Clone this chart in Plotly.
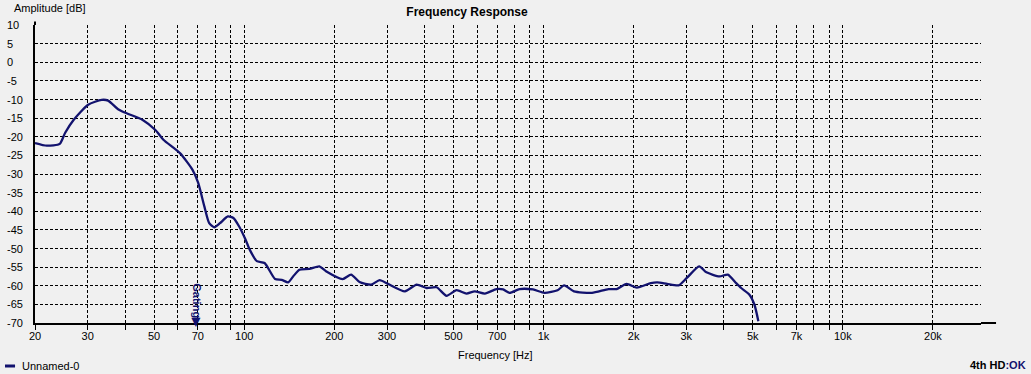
import math
import plotly.graph_objects as go

# ---- data ----
freq_hz = [20, 21.9, 24.2, 25.2, 26.9, 30.1, 33.4, 35.1, 37.9, 39.9, 45.8, 50.5, 53.7,
           61.0, 67.2, 70.2, 73.6, 76.4, 79.4, 83.0, 88.2, 92.0, 96.2, 101, 104.3, 110.2,
           117, 126.8, 133.4, 140.2, 145.7, 153, 165.1, 178.3, 187.6, 213.2, 227.6, 242.8,
           265.6, 283.4, 302.4, 344.3, 376.7, 406.9, 439.4, 474.3, 512, 553, 589, 637,
           696, 733, 771, 832, 922, 1008, 1114, 1172, 1264, 1452, 1649, 1756, 1894, 2050,
           2283, 2400, 2588, 2827, 3011, 3312, 3502, 3874, 4129, 4403, 4575, 4876, 5068, 5222]
amplitude_db = [-21.7, -22.4, -21.9, -19.0, -15.5, -11.4, -10.1, -10.3, -12.6, -13.5, -15.5,
                -18.2, -20.8, -24.4, -28.9, -32.4, -38.7, -43.2, -44.3, -43.2, -41.4, -41.8,
                -44.1, -47.6, -50.3, -53.4, -53.9, -58.2, -58.4, -59.1, -57.5, -55.7, -55.5,
                -54.8, -56.1, -58.2, -57.0, -59.0, -59.7, -58.5, -59.5, -61.5, -59.7, -60.6,
                -60.4, -62.7, -61.2, -62.1, -61.5, -62.1, -60.9, -61.0, -61.9, -60.9, -61.0,
                -61.9, -61.2, -59.9, -61.5, -61.9, -60.9, -60.9, -59.5, -60.5, -59.3, -59.1,
                -59.5, -59.9, -57.9, -54.8, -56.4, -57.5, -57.0, -59.3, -60.6, -62.4, -65.1,
                -69.5]
series_name = "Unnamed-0"

x_tick_vals = [20, 30, 40, 50, 60, 70, 80, 90, 100, 200, 300, 400, 500, 600, 700, 800, 900,
               1000, 2000, 3000, 4000, 5000, 6000, 7000, 8000, 9000, 10000, 20000]
x_tick_text = ["20", "30", "", "50", "", "70", "", "", "100", "200", "300", "", "500", "",
               "700", "", "", "1k", "2k", "3k", "", "5k", "", "7k", "", "", "10k", "20k"]
y_tick_vals = list(range(-70, 11, 5))
gating_hz = 69.4

x_range = [math.log10(20), 4.4617]
y_range = [-70, 10]

NAVY = "#12126e"
BG = "#f0f0f0"
FONT = "Liberation Sans, Arial, sans-serif"

fig = go.Figure()
fig.add_trace(go.Scatter(x=freq_hz, y=amplitude_db, mode="lines", name=series_name,
                         line=dict(color=NAVY, width=2.3, shape="spline", smoothing=0.6),
                         showlegend=False))

annotations = []
# y tick labels (left aligned like the original)
for v in y_tick_vals:
    annotations.append(dict(x=-0.0317, xref="paper", y=v, yref="y", text=str(v),
                            showarrow=False, xanchor="left", yanchor="middle",
                            font=dict(size=11, color="black", family=FONT)))
annotations += [
    dict(x=-0.0243, xref="paper", y=1.057, yref="paper", text="Amplitude [dB]",
         showarrow=False, xanchor="left", yanchor="middle",
         font=dict(size=11, color="black", family=FONT)),
    dict(x=0.4873, xref="paper", y=-0.1074, yref="paper", text="Frequency [Hz]",
         showarrow=False, xanchor="center", yanchor="middle",
         font=dict(size=11, color="black", family=FONT)),
    dict(x=-0.0159, xref="paper", y=-0.1443, yref="paper", text=series_name,
         showarrow=False, xanchor="left", yanchor="middle",
         font=dict(size=11, color="black", family=FONT)),
    dict(x=1.0497, xref="paper", y=-0.141, yref="paper",
         text="<b>4th HD<span style='color:%s'>:OK</span></b>" % NAVY,
         showarrow=False, xanchor="right", yanchor="middle",
         font=dict(size=11, color="black", family=FONT)),
    dict(x=math.log10(gating_hz), xref="x", y=-70, yref="y", text="<b>Gating▶</b>",
         textangle=90, showarrow=False, xanchor="center", yanchor="bottom", yshift=-6,
         font=dict(size=11, color=NAVY, family=FONT)),
]

shapes = [
    dict(type="line", xref="paper", yref="paper", x0=0, x1=0, y0=1, y1=1.012,
         line=dict(color="black", width=2)),
    dict(type="line", xref="paper", yref="paper", x0=1, x1=1.0159, y0=0, y1=0,
         line=dict(color="black", width=2)),
    dict(type="line", xref="paper", yref="paper", x0=-0.0317, x1=-0.0211,
         y0=-0.1443, y1=-0.1443, line=dict(color=NAVY, width=3)),
]

fig.update_layout(
    width=1031, height=374,
    margin=dict(l=35, r=50, t=25, b=51),
    paper_bgcolor=BG, plot_bgcolor=BG,
    title=dict(text="Frequency Response", x=0.453, xanchor="center", y=0.968,
               yanchor="middle", xref="container",
               font=dict(size=12, color="black", family=FONT, weight="bold")),
    font=dict(family=FONT, size=11, color="black"),
    annotations=annotations, shapes=shapes,
    showlegend=False,
)
fig.update_xaxes(type="log", range=x_range, tickvals=x_tick_vals, ticktext=x_tick_text,
                 showgrid=True, gridcolor="black", gridwidth=1, griddash="3px,2px",
                 ticks="outside", ticklen=5, tickcolor="black", tickwidth=1,
                 ticklabelstandoff=-3,
                 showline=True, linecolor="black", linewidth=2, zeroline=False,
                 tickfont=dict(size=11, color="black", family=FONT))
fig.update_yaxes(range=y_range, tickvals=y_tick_vals, showticklabels=False,
                 showgrid=True, gridcolor="black", gridwidth=1, griddash="3px,2px",
                 ticks="", showline=True, linecolor="black", linewidth=2, zeroline=False)

fig.write_html("out.html", config={"displayModeBar": False},
               post_script="document.body.style.margin='0';document.body.style.padding='0';"
                           "document.body.style.overflow='hidden';"
                           "document.body.style.background='%s';" % BG)
